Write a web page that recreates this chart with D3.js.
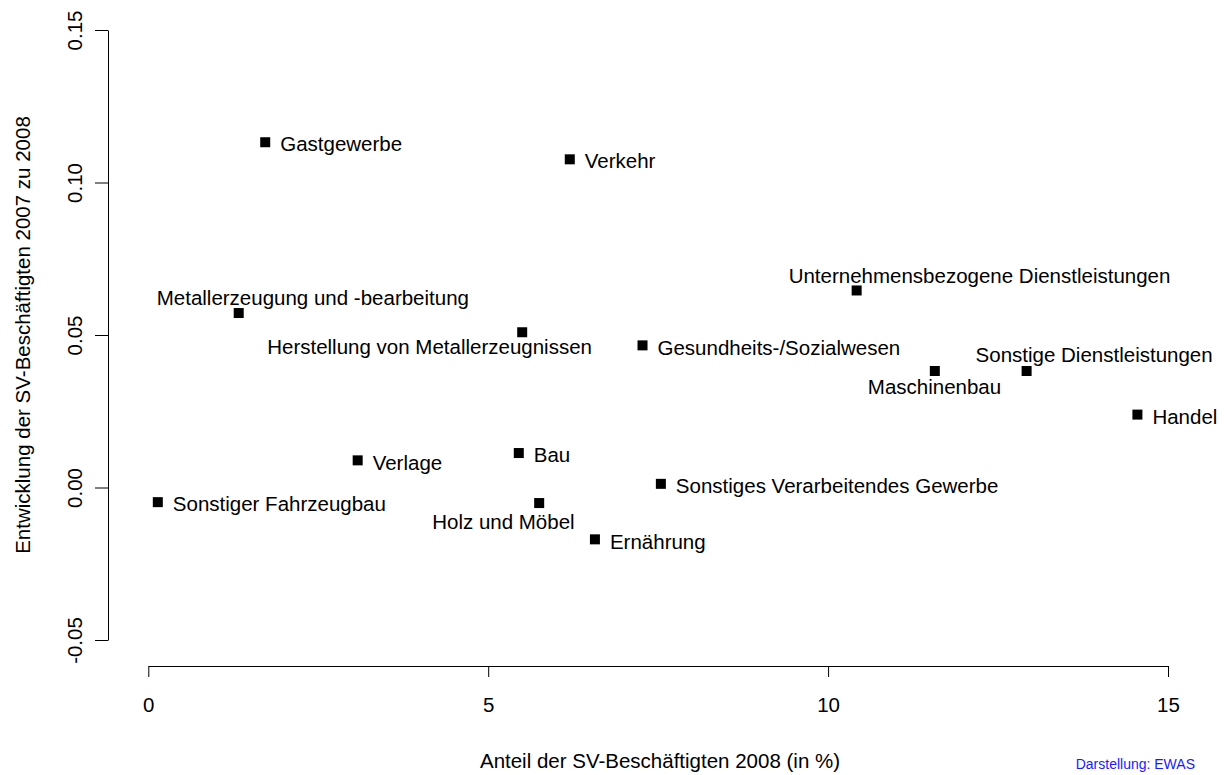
<!DOCTYPE html>
<html>
<head>
<meta charset="utf-8">
<script src="https://cdn.jsdelivr.net/npm/d3@7"></script>
<style>
  body { margin: 0; background: #fff; }
  text { font-family: "Liberation Sans", Arial, sans-serif; }
</style>
</head>
<body>
<script>
const sectors = [
  "Gastgewerbe", "Verkehr", "Metallerzeugung und -bearbeitung",
  "Herstellung von Metallerzeugnissen", "Unternehmensbezogene Dienstleistungen",
  "Gesundheits-/Sozialwesen", "Maschinenbau", "Sonstige Dienstleistungen",
  "Handel", "Verlage", "Bau", "Sonstiges Verarbeitendes Gewerbe",
  "Sonstiger Fahrzeugbau", "Holz und Möbel", "Ernährung"
];
// Anteil der SV-Beschäftigten 2008 (in %)
const share = [1.72, 6.20, 1.33, 5.50, 10.42, 7.27, 11.57, 12.92, 14.55, 3.08, 5.45, 7.54, 0.14, 5.75, 6.57];
// Entwicklung 2007 zu 2008
const growth = [0.1132, 0.1076, 0.0572, 0.0509, 0.0646, 0.0466, 0.0382, 0.0382, 0.0239, 0.0089, 0.0113, 0.0012, -0.0048, -0.0051, -0.0170];

const xTicks = [0, 5, 10, 15];
const yTicks = [-0.05, 0, 0.05, 0.1, 0.15];
const yTickLabels = ["-0.05", "0.00", "0.05", "0.10", "0.15"];

// label placement (pixel offsets from the point, text start)
const labelPos = {
  "Metallerzeugung und -bearbeitung": [-82, -15],
  "Herstellung von Metallerzeugnissen": [-255, 15],
  "Unternehmensbezogene Dienstleistungen": [-68, -15],
  "Maschinenbau": [-67, 16],
  "Sonstige Dienstleistungen": [-51, -16],
  "Holz und Möbel": [-107, 19]
};

const width = 1227, height = 775;
const fontSize = "20.5px";

const svg = d3.select("body").append("svg")
  .attr("width", width)
  .attr("height", height);

const x = d3.scaleLinear([0, 15], [148.3, 1168]);
const y = d3.scaleLinear([-0.05, 0.15], [640, 30]);

// x axis
const gx = svg.append("g")
  .attr("transform", "translate(0,666)")
  .call(d3.axisBottom(x).tickValues(xTicks).tickSize(11).tickSizeOuter(0).tickPadding(20)
    .tickFormat(d3.format("d")));
gx.selectAll("path, line").attr("stroke", "#000");
gx.selectAll("text").attr("font-size", fontSize).attr("fill", "#000")
  .attr("font-family", "Liberation Sans, Arial, sans-serif");

// y axis
const gy = svg.append("g")
  .attr("transform", "translate(108,0)")
  .call(d3.axisLeft(y).tickValues(yTicks).tickSize(13).tickSizeOuter(0)
    .tickFormat((d, i) => yTickLabels[i]));
gy.selectAll("path, line").attr("stroke", "#000");
gy.selectAll("text")
  .attr("font-size", fontSize).attr("fill", "#000")
  .attr("font-family", "Liberation Sans, Arial, sans-serif")
  .attr("x", null).attr("dy", null)
  .attr("text-anchor", "middle")
  .attr("transform", "translate(-34,0) rotate(-90)")
  .attr("y", 0)
  .attr("dominant-baseline", "central");

// axis titles
svg.append("text")
  .attr("x", 660).attr("y", 768)
  .attr("text-anchor", "middle")
  .attr("font-size", fontSize)
  .text("Anteil der SV-Beschäftigten 2008 (in %)");

svg.append("text")
  .attr("transform", "translate(30,335) rotate(-90)")
  .attr("text-anchor", "middle")
  .attr("font-size", fontSize)
  .text("Entwicklung der SV-Beschäftigten 2007 zu 2008");

svg.append("text")
  .attr("x", 1195).attr("y", 769)
  .attr("text-anchor", "end")
  .attr("font-size", "14px")
  .attr("fill", "#1a1aff")
  .text("Darstellung: EWAS");

// points
const idx = d3.range(sectors.length);
svg.append("g")
  .selectAll("rect")
  .data(idx)
  .join("rect")
  .attr("x", i => x(share[i]) - 5)
  .attr("y", i => y(growth[i]) - 5)
  .attr("width", 10)
  .attr("height", 10)
  .attr("fill", "#000");

svg.append("g")
  .attr("font-size", fontSize)
  .selectAll("text")
  .data(idx)
  .join("text")
  .attr("x", i => x(share[i]) + (labelPos[sectors[i]] ? labelPos[sectors[i]][0] : 15))
  .attr("y", i => y(growth[i]) + (labelPos[sectors[i]] ? labelPos[sectors[i]][1] : 2))
  .attr("dy", "0.35em")
  .attr("fill", "#000")
  .text(i => sectors[i]);
</script>
</body>
</html>
